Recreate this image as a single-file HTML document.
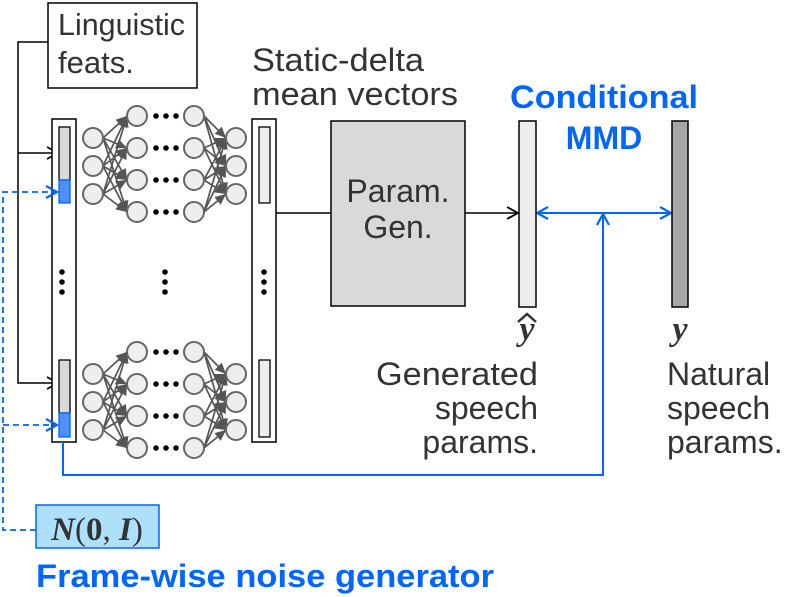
<!DOCTYPE html>
<html><head><meta charset="utf-8"><style>
body{margin:0;background:#fff}
svg{display:block}
text{font-family:"Liberation Sans",sans-serif}
text.s{font-family:"Liberation Serif",serif}
</style></head><body>
<svg width="789" height="597" viewBox="0 0 789 597" xmlns="http://www.w3.org/2000/svg">
<defs>
<marker id="ab" markerWidth="14" markerHeight="14" refX="12" refY="7" orient="auto" markerUnits="userSpaceOnUse"><path d="M1,1 L12,7 L1,13" fill="none" stroke="#000" stroke-width="1.8"/></marker>
<marker id="abl" markerWidth="14" markerHeight="14" refX="12" refY="7" orient="auto-start-reverse" markerUnits="userSpaceOnUse"><path d="M1,1 L12,7 L1,13" fill="none" stroke="#0066ff" stroke-width="2.2"/></marker>
<marker id="ag" markerWidth="12" markerHeight="12" refX="11" refY="6" orient="auto" markerUnits="userSpaceOnUse"><path d="M0,1 L11,6 L0,11z" fill="#555"/></marker>
<g id="net">
<g stroke="#555" stroke-width="1.7" marker-end="url(#ag)">
<line x1="103" y1="138" x2="127" y2="116"/><line x1="103" y1="138" x2="127" y2="148"/><line x1="103" y1="138" x2="127" y2="180"/><line x1="103" y1="138" x2="127" y2="212"/>
<line x1="103" y1="166" x2="127" y2="116"/><line x1="103" y1="166" x2="127" y2="148"/><line x1="103" y1="166" x2="127" y2="180"/><line x1="103" y1="166" x2="127" y2="212"/>
<line x1="103" y1="194" x2="127" y2="116"/><line x1="103" y1="194" x2="127" y2="148"/><line x1="103" y1="194" x2="127" y2="180"/><line x1="103" y1="194" x2="127" y2="212"/>
<line x1="204" y1="116" x2="226" y2="138"/><line x1="204" y1="116" x2="226" y2="166"/><line x1="204" y1="116" x2="226" y2="194"/>
<line x1="204" y1="148" x2="226" y2="138"/><line x1="204" y1="148" x2="226" y2="166"/><line x1="204" y1="148" x2="226" y2="194"/>
<line x1="204" y1="180" x2="226" y2="138"/><line x1="204" y1="180" x2="226" y2="166"/><line x1="204" y1="180" x2="226" y2="194"/>
<line x1="204" y1="212" x2="226" y2="138"/><line x1="204" y1="212" x2="226" y2="166"/><line x1="204" y1="212" x2="226" y2="194"/>
</g>
<g fill="#eee" stroke="#666" stroke-width="2">
<circle cx="93" cy="138" r="10"/><circle cx="93" cy="166" r="10"/><circle cx="93" cy="194" r="10"/>
<circle cx="137" cy="116" r="10"/><circle cx="137" cy="148" r="10"/><circle cx="137" cy="180" r="10"/><circle cx="137" cy="212" r="10"/>
<circle cx="194" cy="116" r="10"/><circle cx="194" cy="148" r="10"/><circle cx="194" cy="180" r="10"/><circle cx="194" cy="212" r="10"/>
<circle cx="236" cy="138" r="10"/><circle cx="236" cy="166" r="10"/><circle cx="236" cy="194" r="10"/>
</g>
<g fill="#000">
<circle cx="156" cy="116" r="2.8"/><circle cx="166" cy="116" r="2.8"/><circle cx="176" cy="116" r="2.8"/>
<circle cx="156" cy="148" r="2.8"/><circle cx="166" cy="148" r="2.8"/><circle cx="176" cy="148" r="2.8"/>
<circle cx="156" cy="180" r="2.8"/><circle cx="166" cy="180" r="2.8"/><circle cx="176" cy="180" r="2.8"/>
<circle cx="156" cy="212" r="2.8"/><circle cx="166" cy="212" r="2.8"/><circle cx="176" cy="212" r="2.8"/>
</g>
</g>
</defs>
<rect x="48" y="3" width="149" height="85" fill="#fff" stroke="#000" stroke-width="1.5"/>
<text x="58" y="35" font-size="31" fill="#333" textLength="127" lengthAdjust="spacingAndGlyphs">Linguistic</text>
<text x="58" y="73" font-size="31" fill="#333">feats.</text>
<polyline points="48,42 18,42 18,383 58,383" fill="none" stroke="#000" stroke-width="1.5" marker-end="url(#ab)"/>
<line x1="18" y1="153" x2="58" y2="153" stroke="#000" stroke-width="1.5" marker-end="url(#ab)"/>
<rect x="52" y="119" width="24" height="323" fill="#fff" stroke="#000" stroke-width="1.5"/>
<rect x="59" y="127" width="11" height="53" fill="#d9d9d9" stroke="#000" stroke-width="1.3"/>
<rect x="59" y="180" width="11" height="23" fill="#4f8ff7" stroke="#0066ff" stroke-width="1.3"/>
<rect x="59" y="360" width="11" height="53" fill="#d9d9d9" stroke="#000" stroke-width="1.3"/>
<rect x="59" y="413" width="11" height="24" fill="#4f8ff7" stroke="#0066ff" stroke-width="1.3"/>
<rect x="252" y="119" width="24" height="323" fill="#fff" stroke="#000" stroke-width="1.5"/>
<rect x="259" y="127" width="11" height="76" fill="#eee" stroke="#000" stroke-width="1.3"/>
<rect x="259" y="360" width="11" height="77" fill="#eee" stroke="#000" stroke-width="1.3"/>
<use href="#net"/>
<use href="#net" y="236"/>
<g fill="#000">
<circle cx="62" cy="272" r="2.8"/><circle cx="62" cy="282" r="2.8"/><circle cx="62" cy="292" r="2.8"/>
<circle cx="165" cy="272" r="2.8"/><circle cx="165" cy="282" r="2.8"/><circle cx="165" cy="292" r="2.8"/>
<circle cx="264" cy="272" r="2.8"/><circle cx="264" cy="282" r="2.8"/><circle cx="264" cy="292" r="2.8"/>
</g>
<polyline points="36,530 3,530 3,192 57,192" fill="none" stroke="#0066ff" stroke-width="1.8" stroke-dasharray="6,4" marker-end="url(#abl)"/>
<line x1="3" y1="425" x2="57" y2="425" stroke="#0066ff" stroke-width="1.8" stroke-dasharray="6,4" marker-end="url(#abl)"/>
<rect x="36" y="505" width="123" height="43" fill="#aee0fb" stroke="#0066ff" stroke-width="1.5"/>
<text class="s" x="97" y="540" font-size="33" text-anchor="middle" fill="#333"><tspan font-style="italic" font-weight="bold">N</tspan>(<tspan font-weight="bold">0</tspan>, <tspan font-style="italic" font-weight="bold">I</tspan>)</text>
<text x="36" y="587" font-size="32" font-weight="bold" fill="#0066ff" textLength="458" lengthAdjust="spacingAndGlyphs">Frame-wise noise generator</text>
<polyline points="63,442 63,475 603,475 603,214" fill="none" stroke="#0066ff" stroke-width="2" marker-end="url(#abl)"/>
<line x1="537" y1="213" x2="671" y2="213" stroke="#0066ff" stroke-width="2" marker-start="url(#abl)" marker-end="url(#abl)"/>
<text x="252" y="71" font-size="32" fill="#333" textLength="172" lengthAdjust="spacingAndGlyphs">Static-delta</text>
<text x="252" y="105" font-size="32" fill="#333" textLength="206" lengthAdjust="spacingAndGlyphs">mean vectors</text>
<line x1="276" y1="213" x2="331" y2="213" stroke="#000" stroke-width="1.5"/>
<rect x="331" y="121" width="134" height="185" fill="#d9d9d9" stroke="#000" stroke-width="1.5"/>
<text x="398" y="202" font-size="32" text-anchor="middle" fill="#333">Param.</text>
<text x="398" y="238" font-size="32" text-anchor="middle" fill="#333">Gen.</text>
<line x1="465" y1="213" x2="518" y2="213" stroke="#000" stroke-width="1.5" marker-end="url(#ab)"/>
<rect x="519" y="121" width="17" height="186" fill="#eee" stroke="#000" stroke-width="1.5"/>
<rect x="672" y="121" width="16" height="186" fill="#a6a6a6" stroke="#000" stroke-width="1.5"/>
<text x="604" y="108" font-size="32" font-weight="bold" fill="#0066ff" text-anchor="middle" textLength="188" lengthAdjust="spacingAndGlyphs">Conditional</text>
<text x="604" y="149" font-size="32" font-weight="bold" fill="#0066ff" text-anchor="middle">MMD</text>
<text class="s" x="527" y="340" font-size="34" font-weight="bold" font-style="italic" fill="#333" text-anchor="middle">y</text>
<path d="M518,322 L527,314 L536,322" fill="none" stroke="#333" stroke-width="2.5"/>
<text class="s" x="680" y="340" font-size="34" font-weight="bold" font-style="italic" fill="#333" text-anchor="middle">y</text>
<text x="538" y="385" font-size="32" fill="#333" text-anchor="end" textLength="162" lengthAdjust="spacingAndGlyphs">Generated</text>
<text x="538" y="419" font-size="32" fill="#333" text-anchor="end">speech</text>
<text x="538" y="453" font-size="32" fill="#333" text-anchor="end">params.</text>
<text x="667" y="385" font-size="32" fill="#333">Natural</text>
<text x="667" y="419" font-size="32" fill="#333">speech</text>
<text x="667" y="453" font-size="32" fill="#333">params.</text>
</svg>
</body></html>
